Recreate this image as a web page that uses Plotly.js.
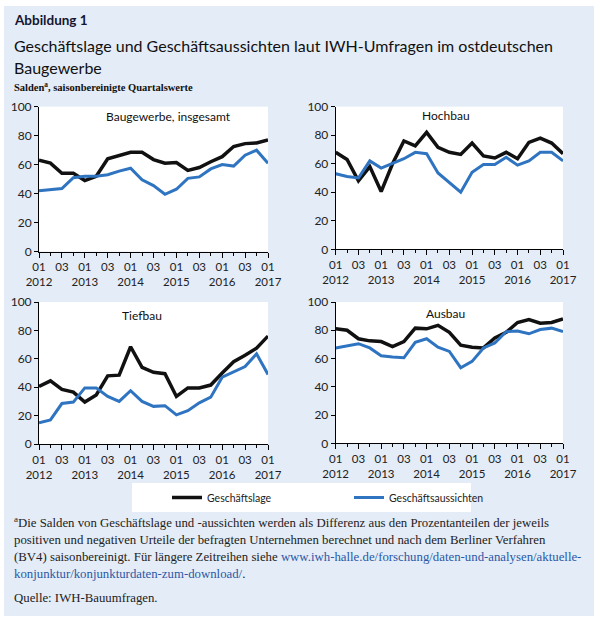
<!DOCTYPE html>
<html><head><meta charset="utf-8">
<script src="https://cdn.plot.ly/plotly-3.0.1.min.js"></script>
<style>
html,body{margin:0;padding:0;background:#fff;}
#chart{position:absolute;left:4px;top:6px;width:590px;height:610px;}
</style>
</head><body><div id="chart"></div>
<script>
// ---- data ----
const quarters = ['2012Q1','2012Q2','2012Q3','2012Q4','2013Q1','2013Q2','2013Q3','2013Q4',
  '2014Q1','2014Q2','2014Q3','2014Q4','2015Q1','2015Q2','2015Q3','2015Q4',
  '2016Q1','2016Q2','2016Q3','2016Q4','2017Q1'];
const seriesNames = ['Geschäftslage','Geschäftsaussichten'];
const panelTitles = ['Baugewerbe, insgesamt','Hochbau','Tiefbau','Ausbau'];

const lageGesamt       = [63,61,54,54,49,52,64,66.5,68.5,68.5,63.5,61,61.5,56,58,62,65.5,72.5,74.5,75,77];
const aussichtenGesamt = [42,43,43.5,51,52,52,53,55.5,57.5,49.5,45.5,39.5,43,50.5,51.5,57,60,59,66.5,70,61];

const lageHochbau       = [68,63,48,58,40.5,60,76,72.5,82,71.5,68,66.5,74.5,65.5,64,68,63.5,75,78,74.5,67];
const aussichtenHochbau = [53,51,50,62,57,60,63.5,68,67,53.5,47,40,54,59.5,59.5,64.5,59,62,68,68,62];

const lageTiefbau       = [40.5,44.5,38.5,36.5,29.5,34.5,48,48.5,68.5,54,50.5,49.5,33.5,39.5,39.5,41.5,50,58,62.5,67.5,76];
const aussichtenTiefbau = [15,17,28.5,29.5,39.5,39.5,33.5,30,37.5,30,26.5,27,20.5,23.5,29,33,47,50.5,54.5,63.5,49];

const lageAusbau       = [81,80,74,72.5,72,68.5,72,81.5,81,83.5,78.5,69.5,68,67.5,74.5,78.5,85.5,87.5,85,85.5,88];
const aussichtenAusbau = [67.5,69,70.5,67.5,62,61,60.5,71.5,74,68,65,53.5,58,67.5,71,79,79.5,77.5,80.5,81.5,79];

const panelLage = [lageGesamt, lageHochbau, lageTiefbau, lageAusbau];
const panelAussichten = [aussichtenGesamt, aussichtenHochbau, aussichtenTiefbau, aussichtenAusbau];
const yTicks = [0,20,40,60,80,100];

// x positions = quarter index; labelled ticks at Q1 and Q3
const xIdx = quarters.map((q, i) => i);
const labelIdx = xIdx.filter(i => quarters[i].endsWith('Q1') || quarters[i].endsWith('Q3'));
const labelText = labelIdx.map(i => quarters[i].endsWith('Q1') ? '01<br>' + quarters[i].slice(0,4) : '03');

// ---- layout helpers (pixel -> paper) ----
const W = 590, H = 610, OX = 4, OY = 6;
const px = x => (x - OX) / W;
const py = y => 1 - (y - OY) / H;

const BLACK = '#111111', BLUE = '#2f74c0';
const sansFont = 'Lato, sans-serif';
const serifFont = 'Liberation Serif, serif';

const panels = [
  {x:[39,268],   y:[106.7,251.5], title:[168,117]},
  {x:[335.7,563],y:[106.7,249.3], title:[446,116]},
  {x:[39,268],   y:[302,444],     title:[142,315]},
  {x:[335.7,563],y:[302,443.3],   title:[445,313]}
];

const traces = [];
const layout = {
  width: W, height: H,
  margin: {l:0, r:0, t:0, b:0},
  paper_bgcolor: '#e4ecf7',
  plot_bgcolor: '#ffffff',
  showlegend: true,
  legend: {
    orientation: 'h', x: px(167), y: py(497.5), xanchor: 'left', yanchor: 'middle',
    bgcolor: 'rgba(0,0,0,0)', font: {family: sansFont, size: 10.5, color: '#222'},
    itemwidth: 30, entrywidth: 137, entrywidthmode: 'pixels'
  },
  shapes: [{
    type: 'rect', xref: 'paper', yref: 'paper', layer: 'below',
    x0: px(132), x1: px(471), y0: py(512), y1: py(483),
    fillcolor: '#ffffff', line: {width: 0}
  }],
  annotations: [],
  font: {family: sansFont, color: '#222'}
};

panels.forEach((p, i) => {
  const n = i + 1;
  const xa = 'x' + (n === 1 ? '' : n), ya = 'y' + (n === 1 ? '' : n);
  traces.push({
    x: xIdx, y: panelLage[i], xaxis: xa, yaxis: ya, type: 'scatter', mode: 'lines',
    name: seriesNames[0], line: {color: BLACK, width: 3.5}, showlegend: i === 0, hoverinfo: 'skip'
  });
  traces.push({
    x: xIdx, y: panelAussichten[i], xaxis: xa, yaxis: ya, type: 'scatter', mode: 'lines',
    name: seriesNames[1], line: {color: BLUE, width: 3}, showlegend: i === 0, hoverinfo: 'skip'
  });
  const xKey = 'xaxis' + (n === 1 ? '' : n), yKey = 'yaxis' + (n === 1 ? '' : n);
  layout[xKey] = {
    domain: [px(p.x[0]), px(p.x[1])], anchor: ya, type: 'linear',
    range: [0, quarters.length - 1], tickmode: 'array', tickvals: labelIdx, ticktext: labelText,
    ticks: 'outside', ticklen: 5, tickcolor: '#000', showline: true, linecolor: '#000', linewidth: 1,
    minor: {tickmode: 'linear', tick0: 0, dtick: 1, ticks: 'outside', ticklen: 3, tickcolor: '#000', showgrid: false},
    showgrid: false, zeroline: false, fixedrange: true, ticklabeloverflow: 'allow',
    tickangle: 0, showticklabels: true,
    tickfont: {family: sansFont, size: 11.5, color: '#222'}
  };
  layout[yKey] = {
    domain: [py(p.y[1]), py(p.y[0])], anchor: xa,
    range: [0, 100], tickmode: 'array', tickvals: yTicks,
    ticks: 'outside', ticklen: 4, tickcolor: '#000', showline: true, linecolor: '#000', linewidth: 1,
    showgrid: false, zeroline: false, fixedrange: true,
    tickfont: {family: sansFont, size: 12, color: '#222'}
  };
  layout.annotations.push({
    xref: 'paper', yref: 'paper', x: px(p.title[0]), y: py(p.title[1]),
    xanchor: 'center', yanchor: 'middle', showarrow: false, text: panelTitles[i],
    font: {family: sansFont, size: 12, color: '#111'}
  });
});

const FS = 12.8;
const textLines = [
  {t:'<b>Abbildung 1</b>', y:20, f:sansFont, s:13.5, c:'#151530'},
  {t:'Geschäftslage und Geschäftsaussichten laut IWH-Umfragen im ostdeutschen', y:46, f:sansFont, s:16, c:'#111'},
  {t:'Baugewerbe', y:68, f:sansFont, s:16, c:'#111'},
  {t:'<b>Salden<sup>a</sup>, saisonbereinigte Quartalswerte</b>', y:86, f:serifFont, s:10.5, c:'#111'},
  {t:'<sup>a</sup>Die Salden von Geschäftslage und -aussichten werden als Differenz aus den Prozentanteilen der jeweils', y:522, f:serifFont, s:FS, c:'#222'},
  {t:'positiven und negativen Urteile der befragten Unternehmen berechnet und nach dem Berliner Verfahren', y:540, f:serifFont, s:FS, c:'#222'},
  {t:'(BV4) saisonbereinigt. Für längere Zeitreihen siehe <span style="color:#2a58a6">www.iwh-halle.de/forschung/daten-und-analysen/aktuelle-</span>', y:557, f:serifFont, s:FS, c:'#222'},
  {t:'<span style="color:#2a58a6">konjunktur/konjunkturdaten-zum-download/</span>.', y:574, f:serifFont, s:FS, c:'#222'},
  {t:'Quelle: IWH-Bauumfragen.', y:598, f:serifFont, s:FS, c:'#222'}
];
textLines.forEach(l => layout.annotations.push({
  xref:'paper', yref:'paper', x: px(12), y: py(l.y), xanchor:'left', yanchor:'middle',
  showarrow:false, text:l.t, font:{family:l.f, size:l.s, color:l.c}
}));

Plotly.newPlot('chart', traces, layout, {staticPlot: true, displayModeBar: false});
</script>
</body></html>
